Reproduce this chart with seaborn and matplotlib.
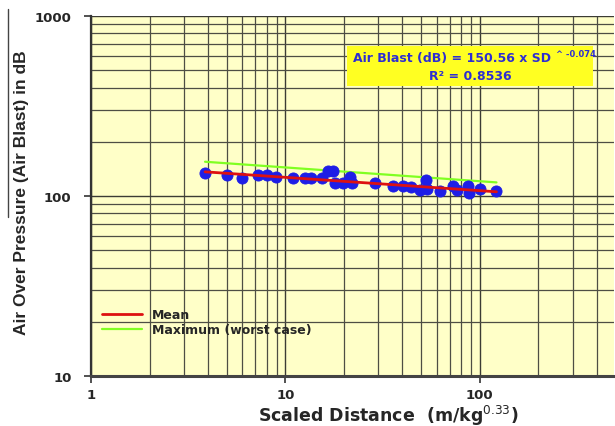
import numpy as np
import pandas as pd
import matplotlib
matplotlib.use("Agg")
import matplotlib.pyplot as plt
from matplotlib.lines import Line2D
from matplotlib.patches import Rectangle
from matplotlib.ticker import FixedLocator, FixedFormatter, LogLocator, NullFormatter
import seaborn as sns

# Measured blasts: scaled distance (m/kg^0.33) and air over pressure (dB)
scaled_distance = [3.86, 4.99, 5.95, 7.25, 8.0, 8.93, 10.9, 12.6, 13.6, 15.4,
                   16.6, 17.5, 18.0, 19.8, 21.6, 22.1, 28.8, 35.6, 40.3, 44.5,
                   49.2, 52.7, 53.6, 62.3, 72.9, 76.4, 87.1, 88.1, 100.0, 121.8]
air_blast_db = [135, 131, 126, 131, 130, 128, 126, 126, 126, 126,
                138, 138, 118, 118, 127, 118, 118, 113, 113, 112,
                108, 122, 110, 106, 113, 108, 113, 103.5, 109, 106]

# Regression: Air Blast = K * SD^b
fit_k = 150.56
fit_b = -0.074
fit_r2 = 0.8536
fit_range = [3.86, 121.8]

# Worst-case envelope end points
max_sd = [3.86, 121.8]
max_db = [155, 119]

x_ticks = [1, 10, 100]
x_tick_labels = ["1", "10", "100"]
y_ticks = [10, 100, 1000]
y_tick_labels = ["10", "100", "1000"]

sns.set_style("ticks")
plt.rcParams["font.family"] = ["DejaVu Sans"]

fig = plt.figure(figsize=(6.15, 4.27), dpi=100)
ax = fig.add_axes([91 / 615, 50 / 427, 523 / 615, 360 / 427])
ax.set_facecolor("#FFFFC8")

points = pd.DataFrame({"sd": scaled_distance, "db": air_blast_db})
mean_df = pd.DataFrame({"sd": fit_range,
                        "db": [fit_k * s ** fit_b for s in fit_range]})
max_df = pd.DataFrame({"sd": max_sd, "db": max_db})

ax.set_xscale("log")
ax.set_yscale("log")
ax.set_xlim(1, 490)
ax.set_ylim(10, 1000)

# grid on major and minor decades
ax.xaxis.set_minor_locator(LogLocator(base=10, subs=np.arange(2, 10)))
ax.yaxis.set_minor_locator(LogLocator(base=10, subs=np.arange(2, 10)))
ax.xaxis.set_minor_formatter(NullFormatter())
ax.yaxis.set_minor_formatter(NullFormatter())
ax.grid(which="major", color="#3c3c34", linewidth=1.0, zorder=0)
ax.grid(which="minor", color="#4e4e44", linewidth=0.9, zorder=0)
ax.set_axisbelow(True)

sns.lineplot(data=max_df, x="sd", y="db", ax=ax, color="#80FF22",
             linewidth=1.6, label="Maximum (worst case)", zorder=3)
sns.scatterplot(data=points, x="sd", y="db", ax=ax, color="#1E1EE6",
                edgecolor="#1E1EE6", s=64, zorder=4, legend=False)
sns.lineplot(data=mean_df, x="sd", y="db", ax=ax, color="#DD1111",
             linewidth=2.0, label="Mean", zorder=5)

ax.xaxis.set_major_locator(FixedLocator(x_ticks))
ax.xaxis.set_major_formatter(FixedFormatter(x_tick_labels))
ax.yaxis.set_major_locator(FixedLocator(y_ticks))
ax.yaxis.set_major_formatter(FixedFormatter(y_tick_labels))
ax.tick_params(which="major", length=5, width=1.2, color="#333333",
               labelsize=9.5)
ax.tick_params(axis="y", which="major", pad=9)
ax.tick_params(axis="x", which="major", pad=4)
ax.tick_params(which="minor", length=0)
for lab in ax.get_xticklabels() + ax.get_yticklabels():
    lab.set_fontweight("bold")

for side in ["top", "right"]:
    ax.spines[side].set_visible(False)
ax.spines["left"].set_color("#333333")
ax.spines["left"].set_linewidth(1.6)
ax.spines["bottom"].set_color("#444444")
ax.spines["bottom"].set_linewidth(2.2)

ax.set_xlabel("Scaled Distance  (m/kg$^{0.33}$)", fontsize=12.5,
              fontweight="bold")
ax.xaxis.set_label_coords(0.569, -0.075)
ax.set_ylabel("Air Over Pressure (Air Blast) in dB", fontsize=12.5,
              family="Liberation Sans", fontweight="bold")
ax.yaxis.set_label_coords(-0.118, 0.511)

handles, labels = ax.get_legend_handles_labels()
order = [labels.index("Mean"), labels.index("Maximum (worst case)")]
ax.legend([handles[i] for i in order], [labels[i] for i in order],
          loc="lower left", bbox_to_anchor=(0.0, 0.08), frameon=False,
          handlelength=3.2, handletextpad=0.8, labelspacing=0.12,
          prop={"weight": "bold", "size": 9})

# regression equation panel
ax.add_patch(Rectangle((0.4895, 0.8056), 0.4703, 0.1111, transform=ax.transAxes,
                       facecolor="#FFFF22", edgecolor="none", zorder=6))
eq_color = "#2E2ED2"
ax.text(0.501, 0.886, "Air Blast (dB) = %.2f x SD" % fit_k,
        transform=ax.transAxes, ha="left", va="center", fontsize=9,
        fontweight="bold", color=eq_color, zorder=7)
ax.text(0.889, 0.895, "^ %.3f" % fit_b,
        transform=ax.transAxes, ha="left", va="center", fontsize=6,
        fontweight="bold", color=eq_color, zorder=7)
ax.text(0.7247, 0.836, "R² = %.4f" % fit_r2,
        transform=ax.transAxes, ha="center", va="center", fontsize=9,
        fontweight="bold", color=eq_color, zorder=7)

# thin rule beside the axis title
fig.add_artist(Line2D([8 / 615, 8 / 615], [1 - 10 / 427, 1 - 218 / 427],
                      transform=fig.transFigure, color="#444444", linewidth=1.0))

fig.savefig("out.png", dpi=100)
